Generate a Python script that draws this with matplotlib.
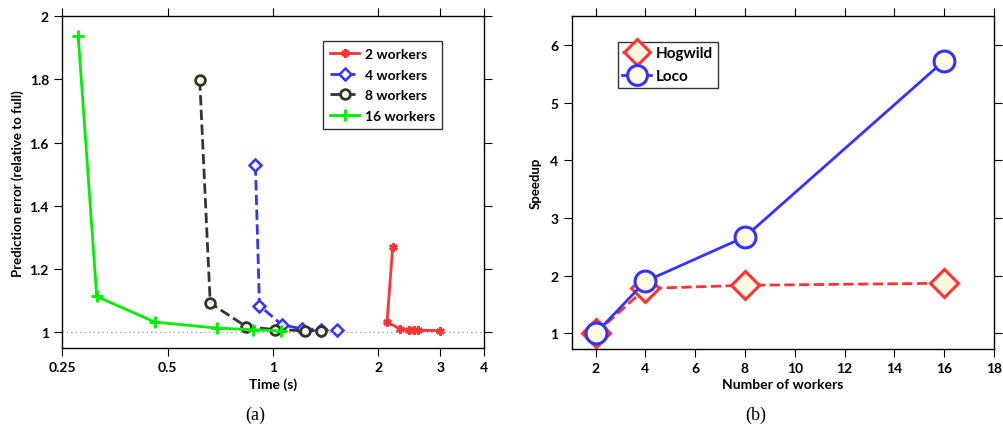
import numpy as np
import matplotlib
matplotlib.use("Agg")
import matplotlib.pyplot as plt

plt.rcParams['font.family'] = ['Lato', 'DejaVu Sans']
plt.rcParams['font.weight'] = 'bold'

# (a) prediction error vs time
t2 = [2.196, 2.116, 2.30, 2.45, 2.52, 2.59, 3.0]
e2 = [1.27, 1.032, 1.011, 1.006, 1.006, 1.006, 1.005]
t4 = [0.891, 0.915, 1.061, 1.21, 1.37, 1.526]
e4 = [1.528, 1.084, 1.023, 1.011, 1.008, 1.007]
t8 = [0.618, 0.662, 0.838, 1.015, 1.235, 1.369]
e8 = [1.797, 1.092, 1.018, 1.008, 1.005, 1.005]
t16 = [0.278, 0.314, 0.46, 0.692, 0.875, 1.054]
e16 = [1.937, 1.113, 1.032, 1.013, 1.008, 1.004]
xticks_a = [0.25, 0.5, 1, 2, 3, 4]
yticks_a = [1, 1.2, 1.4, 1.6, 1.8, 2]

# (b) speedup
workers = [2, 4, 8, 16]
hogwild = [1.0, 1.78, 1.835, 1.87]
loco = [1.0, 1.904, 2.675, 5.729]

red = '#ff3333'
blue = '#3333ff'
dark = '#333333'
green = '#00ee00'
cream = '#fffbe0'

fig = plt.figure(figsize=(10.04, 4.27), dpi=100)
ax1 = fig.add_axes([0.0618, 0.1827, 0.4202, 0.7768])
ax2 = fig.add_axes([0.5694, 0.1803, 0.4206, 0.7792])

ax1.axhline(1, color='#888888', lw=0.8, ls=(0, (1, 3)), zorder=1)
ax1.plot(t2, e2, color=red, lw=2, marker=(6, 2, 0), ms=6, mew=1.8, label='2 workers')
ax1.plot(t4, e4, color=blue, lw=2, ls='--', marker='D', ms=6, mfc='white', mew=1.8, label='4 workers')
ax1.plot(t8, e8, color=dark, lw=2, ls='--', marker='o', ms=7, mfc=cream, mew=2, label='8 workers')
ax1.plot(t16, e16, color=green, lw=2, marker='+', ms=8, mew=2, label='16 workers')

ax1.set_xscale('log')
ax1.set_xlim(0.25, 4)
ax1.set_ylim(0.95, 2)
ax1.set_xticks(xticks_a)
ax1.set_xticklabels(['0.25', '0.5', '1', '2', '3', '4'])
ax1.xaxis.set_minor_locator(matplotlib.ticker.NullLocator())
ax1.set_yticks(yticks_a)
ax1.set_yticklabels(['1', '1.2', '1.4', '1.6', '1.8', '2'])
ax1.set_xlabel('Time (s)', fontsize=10, fontweight='bold', labelpad=3)
ax1.set_ylabel('Prediction error (relative to full)', fontsize=9.5, fontweight='bold', labelpad=4)
leg1 = ax1.legend(loc='upper right', bbox_to_anchor=(0.9005, 0.925), borderaxespad=0,
                  fontsize=10, frameon=True, fancybox=False, edgecolor='black',
                  handlelength=2.1, borderpad=0.5, labelspacing=0.62, handletextpad=0.4)
leg1.get_frame().set_linewidth(1)

ax2.plot(workers, hogwild, color=red, lw=2, ls='--', marker='D', ms=14, mfc=cream, mew=2.2, label='Hogwild')
ax2.plot(workers, loco, color=blue, lw=2, marker='o', ms=15, mfc=cream, mew=2.2, label='Loco')
ax2.set_xlim(1.04, 18)
ax2.set_ylim(0.73, 6.5)
ax2.set_xticks(range(2, 19, 2))
ax2.set_yticks([1, 2, 3, 4, 5, 6])
ax2.set_xlabel('Number of workers', fontsize=10, fontweight='bold', labelpad=3)
ax2.set_ylabel('Speedup', fontsize=9.5, fontweight='bold', labelpad=6)
leg2 = ax2.legend(loc='upper left', bbox_to_anchor=(0.109, 0.924), borderaxespad=0,
                  fontsize=11, frameon=True, fancybox=False, edgecolor='black',
                  handlelength=1.9, handleheight=0.7, borderpad=0.3,
                  labelspacing=0.6, handletextpad=0.3, markerscale=0.95)
leg2.get_frame().set_linewidth(1)

for ax in (ax1, ax2):
    ax.tick_params(direction='out', length=5.5, width=0.8, top=True, right=True,
                   labelsize=10, pad=4)
    for lab in ax.get_xticklabels() + ax.get_yticklabels():
        lab.set_fontweight('bold')
    for s in ax.spines.values():
        s.set_linewidth(1)

fig.text(0.254, 0.016, '(a)', family='Liberation Serif', fontsize=13, weight='normal',
         ha='center', va='baseline')
fig.text(0.753, 0.016, '(b)', family='Liberation Serif', fontsize=13, weight='normal',
         ha='center', va='baseline')

fig.savefig('out.png', dpi=100)
